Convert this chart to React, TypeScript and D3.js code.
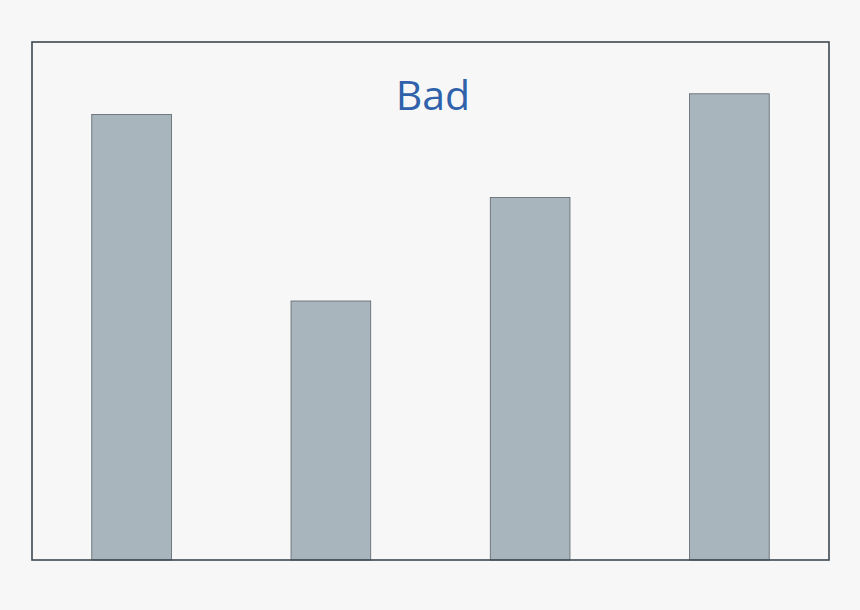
import { useEffect, useRef } from 'react'
import * as d3 from 'd3'

const categories = ['A', 'B', 'C', 'D']
const values = [86, 50, 70, 90]
const title = 'Bad'

const width = 860
const height = 610

export default function App() {
  const svgRef = useRef<SVGSVGElement>(null)

  useEffect(() => {
    if (!svgRef.current) return
    const svg = d3.select(svgRef.current)
    svg.selectAll('*').remove()

    const frame = { left: 32, right: 829, top: 42, bottom: 560 }

    svg.append('rect')
      .attr('width', width)
      .attr('height', height)
      .attr('fill', '#f7f7f7')

    const x = d3.scaleBand<string>()
      .domain(categories)
      .range([frame.left, frame.right])
      .paddingInner(0.6)
      .paddingOuter(0.3)

    const y = d3.scaleLinear()
      .domain([0, 100])
      .range([frame.bottom, frame.top])

    // bars
    svg.selectAll('.bar')
      .data(values)
      .enter()
      .append('rect')
      .attr('class', 'bar')
      .attr('x', (d, i) => x(categories[i])!)
      .attr('y', d => y(d))
      .attr('width', x.bandwidth())
      .attr('height', d => y(0) - y(d))
      .attr('fill', '#a9b5bd')
      .attr('stroke', '#5b646b')
      .attr('stroke-width', 0.8)

    // frame
    svg.append('rect')
      .attr('x', frame.left)
      .attr('y', frame.top)
      .attr('width', frame.right - frame.left)
      .attr('height', frame.bottom - frame.top)
      .attr('fill', 'none')
      .attr('stroke', '#3e4850')
      .attr('stroke-width', 1.6)

    svg.append('text')
      .attr('x', 433)
      .attr('y', 110)
      .attr('text-anchor', 'middle')
      .attr('fill', '#2f62aa')
      .style('font-family', 'Open Sans, sans-serif')
      .style('font-size', '41px')
      .text(title)
  }, [])

  return (
    <svg
      ref={svgRef}
      width={width}
      height={height}
      style={{ position: 'absolute', top: 0, left: 0 }}
    />
  )
}
